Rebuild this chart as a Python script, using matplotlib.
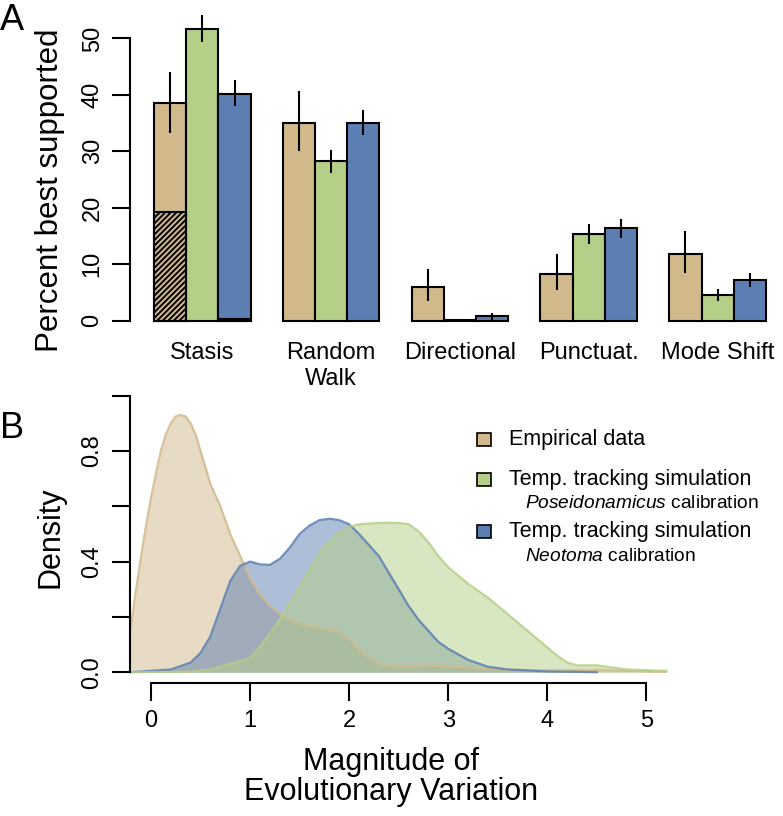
import matplotlib
matplotlib.use("Agg")
import matplotlib.pyplot as plt
from matplotlib.patches import Rectangle

plt.rcParams['font.family'] = ['Liberation Sans', 'DejaVu Sans']
plt.rcParams['mathtext.fontset'] = 'custom'
plt.rcParams['mathtext.it'] = 'Liberation Sans:italic'
plt.rcParams['mathtext.rm'] = 'Liberation Sans'
plt.rcParams['hatch.linewidth'] = 1.4

# ---- panel A data: percent best supported (with error bars) ----
models = ["Stasis", "Random\nWalk", "Directional", "Punctuat.", "Mode Shift"]
empirical = [38.5, 35.1, 5.9, 8.3, 11.9]
empirical_lo = [33.2, 30.0, 3.5, 5.4, 8.5]
empirical_hi = [44.1, 40.7, 9.1, 11.8, 15.9]
poseid = [51.7, 28.3, 0.2, 15.3, 4.5]
poseid_lo = [49.4, 26.1, 0.1, 13.5, 3.5]
poseid_hi = [54.1, 30.3, 0.35, 17.1, 5.6]
neotoma = [40.2, 35.1, 0.8, 16.4, 7.2]
neotoma_lo = [38.0, 32.9, 0.2, 14.6, 6.0]
neotoma_hi = [42.6, 37.4, 1.4, 18.1, 8.5]
strict_stasis = [19.3, 0.0, 0.3]   # hatched part of Stasis bars (emp, poseid, neotoma)

# ---- panel B data: density curves ----
emp_x = [-0.21, -0.15, -0.1, -0.05, 0.0, 0.05, 0.1, 0.15, 0.2, 0.25, 0.3, 0.35, 0.4, 0.45, 0.5, 0.55,
         0.6, 0.7, 0.8, 0.9, 1.0, 1.1, 1.2, 1.3, 1.4, 1.5, 1.6, 1.7, 1.8, 1.9, 2.0, 2.1, 2.2, 2.3,
         2.4, 2.6, 2.8, 3.0, 3.5, 4.0, 4.5, 5.0, 5.2]
emp_y = [0.15, 0.30, 0.42, 0.53, 0.63, 0.72, 0.80, 0.86, 0.90, 0.925, 0.93, 0.925, 0.90, 0.86, 0.80, 0.74,
         0.68, 0.60, 0.50, 0.42, 0.34, 0.28, 0.24, 0.21, 0.19, 0.175, 0.165, 0.16, 0.155, 0.145, 0.12, 0.08,
         0.05, 0.03, 0.022, 0.02, 0.025, 0.02, 0.01, 0.006, 0.008, 0.003, 0.002]
neo_x = [-0.21, 0.0, 0.2, 0.4, 0.5, 0.6, 0.7, 0.8, 0.9, 1.0, 1.1, 1.2, 1.3, 1.4, 1.5, 1.6, 1.7,
         1.8, 1.9, 2.0, 2.1, 2.2, 2.3, 2.4, 2.5, 2.6, 2.7, 2.8, 2.9, 3.0, 3.2, 3.4, 3.6, 4.0, 4.5]
neo_y = [0.0, 0.005, 0.01, 0.035, 0.07, 0.13, 0.23, 0.33, 0.385, 0.40, 0.39, 0.388, 0.41, 0.45, 0.50, 0.53, 0.55,
         0.555, 0.55, 0.535, 0.50, 0.46, 0.42, 0.36, 0.30, 0.24, 0.19, 0.15, 0.11, 0.085, 0.045, 0.02, 0.01, 0.003, 0.0]
pos_x = [-0.21, 0.4, 0.6, 0.8, 1.0, 1.1, 1.2, 1.3, 1.4, 1.5, 1.6, 1.7, 1.8, 1.9, 2.0, 2.1, 2.3, 2.5,
         2.6, 2.7, 2.8, 2.9, 3.0, 3.1, 3.2, 3.3, 3.4, 3.5, 3.6, 3.7, 3.8, 3.9, 4.0, 4.1, 4.2, 4.3,
         4.5, 4.6, 4.8, 5.0, 5.2]
pos_y = [0.0, 0.002, 0.01, 0.03, 0.05, 0.09, 0.14, 0.19, 0.25, 0.31, 0.37, 0.43, 0.47, 0.505, 0.525, 0.535, 0.54, 0.54,
         0.535, 0.51, 0.47, 0.42, 0.38, 0.35, 0.32, 0.295, 0.27, 0.24, 0.21, 0.18, 0.15, 0.12, 0.09, 0.06, 0.035, 0.025,
         0.025, 0.02, 0.01, 0.007, 0.005]

tan = "#D2B98C"
green = "#B4CF87"
blue = "#5B7FB3"

W, H = 783, 816
fig = plt.figure(figsize=(W / 100, H / 100), dpi=100)

# ---------------- Panel A ----------------
axA = fig.add_axes([130 / W, (H - 320.7) / H, (W - 130) / W, 320.7 / H])
series = [(empirical, empirical_lo, empirical_hi, tan),
          (poseid, poseid_lo, poseid_hi, green),
          (neotoma, neotoma_lo, neotoma_hi, blue)]
for j, (vals, lo, hi, col) in enumerate(series):
    lefts = [1 + 4 * g + j for g in range(len(models))]
    axA.bar(lefts, vals, width=1, align='edge', color=col, edgecolor='black',
            linewidth=1.5, clip_on=False, zorder=2)
    if strict_stasis[j] > 0:
        axA.bar(lefts[0], strict_stasis[j], width=1, align='edge', color=col,
                edgecolor='black', hatch='//////', linewidth=1.5, clip_on=False, zorder=3)
    centers = [l + 0.5 for l in lefts]
    axA.vlines(centers, lo, hi, color='black', linewidth=1.5, zorder=4, clip_on=False)

axA.set_xlim(0.255, 20.53)
axA.set_ylim(0, 56.8)
for s in ['top', 'right', 'bottom']:
    axA.spines[s].set_visible(False)
axA.spines['left'].set_bounds(0, 50)
axA.spines['left'].set_linewidth(1.5)
axA.set_yticks([0, 10, 20, 30, 40, 50])
axA.tick_params(axis='y', length=13, width=1.5, labelsize=17, pad=6)
for lab in axA.get_yticklabels():
    lab.set_rotation(90)
    lab.set_va('center')
axA.set_xticks([1 + 4 * g + 1.5 for g in range(len(models))])
axA.set_xticklabels(models, fontsize=17, linespacing=1.25)
axA.tick_params(axis='x', length=0, pad=15)
fig.text(50 / W, 1 - 190 / H, "Percent best supported", rotation=90,
         fontsize=22.5, ha='center', va='center')
fig.text(0, 1 - 20 / H, "A", fontsize=26, ha='left', va='center')

# ---------------- Panel B ----------------
axB = fig.add_axes([130 / W, (H - 683.3) / H, (W - 130) / W, (683.3 - 390) / H])
for xs, ys, col in [(emp_x, emp_y, tan), (neo_x, neo_y, blue), (pos_x, pos_y, green)]:
    axB.fill_between(xs, 0, ys, color=col, alpha=0.5, linewidth=0)
    axB.plot(xs, ys, color=col, linewidth=1.6, alpha=0.85, solid_joinstyle='round')

axB.set_xlim(-0.212, 6.38)
axB.set_ylim(-0.04, -0.04 + 293.3 / 276.6)
for s in ['top', 'right']:
    axB.spines[s].set_visible(False)
axB.spines['left'].set_bounds(0, 1.0)
axB.spines['bottom'].set_bounds(0, 5)
axB.spines['left'].set_linewidth(1.5)
axB.spines['bottom'].set_linewidth(1.5)
axB.set_yticks([0, 0.2, 0.4, 0.6, 0.8, 1.0])
axB.set_yticklabels(["0.0", "", "0.4", "", "0.8", ""])
axB.set_xticks([0, 1, 2, 3, 4, 5])
axB.tick_params(axis='both', length=13, width=1.5, labelsize=17, pad=6)
for lab in axB.get_yticklabels():
    lab.set_rotation(90)
    lab.set_va('center')
fig.text(50 / W, 1 - 537 / H, "Density", rotation=90, fontsize=22,
         ha='center', va='center')
fig.text(391 / W, 1 - 777 / H, "Magnitude of\nEvolutionary Variation", fontsize=22,
         ha='center', va='center', linespacing=1.0)
fig.text(0, 1 - 428 / H, "B", fontsize=26, ha='left', va='center')

# legend
legend_rows = [(439.3, tan, "Empirical data", None),
               (479.3, green, "Temp. tracking simulation", r"$\mathit{Poseidonamicus}$ calibration"),
               (531.7, blue, "Temp. tracking simulation", r"$\mathit{Neotoma}$ calibration")]
for yc, col, main, sub in legend_rows:
    fig.patches.append(Rectangle(((484 - 7) / W, 1 - (yc + 6.5) / H), 14 / W, 13 / H,
                                 facecolor=col, edgecolor='black', linewidth=1.2,
                                 transform=fig.transFigure, figure=fig))
    fig.text(509 / W, 1 - yc / H, main, fontsize=15.5, ha='left', va='center')
    if sub:
        fig.text(525 / W, 1 - (yc + 24.5) / H, sub, fontsize=13.8, ha='left', va='center')

fig.savefig("out.png", dpi=100)
